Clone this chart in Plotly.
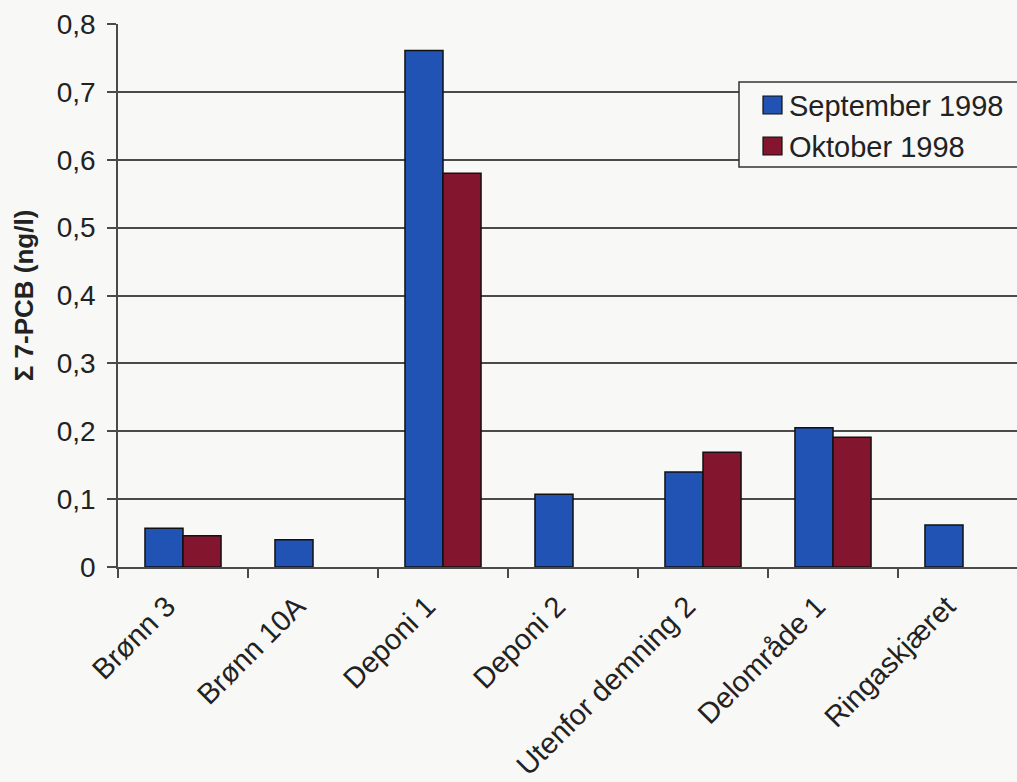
import plotly.graph_objects as go

# Σ 7-PCB concentrations (ng/l) per sampling station
stations = ["Brønn 3", "Brønn 10A", "Deponi 1", "Deponi 2",
            "Utenfor demning 2", "Delområde 1", "Ringaskjæret"]
sep_1998 = [0.057, 0.040, 0.761, 0.107, 0.140, 0.205, 0.062]
okt_1998 = [0.046, None, 0.580, None, 0.169, 0.191, None]
series_names = ["September 1998", "Oktober 1998"]
y_ticks = [0, 0.1, 0.2, 0.3, 0.4, 0.5, 0.6, 0.7, 0.8]
y_tick_text = ["0", "0,1", "0,2", "0,3", "0,4", "0,5", "0,6", "0,7", "0,8"]

BLUE = "#2153b4"
MAROON = "#84152f"
BG = "#f8f8f6"
INK = "#222222"
GRID = "#4a4a4a"
FONT = "Liberation Sans, Arial, sans-serif"

W, H = 1017, 782
L, T, B = 118, 24, 215
CAT_PX = 130  # pixel width of one category slot

plot_w = W - L
plot_h = H - T - B


def px(x, y):
    """Convert page pixels to paper coordinates."""
    return (x - L) / plot_w, (H - B - y) / plot_h


fig = go.Figure()
fig.add_trace(go.Bar(x=stations, y=sep_1998, name=series_names[0],
                     marker=dict(color=BLUE, line=dict(color="#111", width=1.5)),
                     showlegend=False))
fig.add_trace(go.Bar(x=stations, y=okt_1998, name=series_names[1],
                     marker=dict(color=MAROON, line=dict(color="#111", width=1.5)),
                     showlegend=False))

# hand-drawn legend box
x0, y0 = px(739, 82)
x1, y1 = px(1040, 167)
shapes = [dict(type="rect", xref="paper", yref="paper", x0=x0, x1=x1, y0=y1, y1=y0,
               line=dict(color="#333", width=1.5), fillcolor=BG, layer="above")]
annotations = []
for i, (name, col) in enumerate(zip(series_names, [BLUE, MAROON])):
    cy = 105 + i * 41
    sx0, sy0 = px(763, cy - 9)
    sx1, sy1 = px(782, cy + 9)
    shapes.append(dict(type="rect", xref="paper", yref="paper", x0=sx0, x1=sx1,
                       y0=sy1, y1=sy0, line=dict(color="#111", width=1.2),
                       fillcolor=col, layer="above"))
    tx, ty = px(787, cy + 1)
    annotations.append(dict(xref="paper", yref="paper", x=tx, y=ty, text=name,
                            showarrow=False, xanchor="left", yanchor="middle",
                            font=dict(family=FONT, size=29, color=INK)))

fig.update_layout(
    width=W, height=H,
    margin=dict(l=L, r=0, t=T, b=B, pad=0),
    paper_bgcolor=BG, plot_bgcolor=BG,
    barmode="group", bargap=0.415, bargroupgap=0,
    font=dict(family=FONT, size=28, color=INK),
    shapes=shapes, annotations=annotations,
    showlegend=False,
)
fig.update_xaxes(
    type="category", range=[-0.5, -0.5 + plot_w / CAT_PX],
    tickson="boundaries", ticks="outside", ticklen=9, tickwidth=1.5, tickcolor=GRID,
    tickangle=-45, tickfont=dict(family=FONT, size=29, color=INK),
    ticklabelshift=-16, ticklabelstandoff=9,
    showline=True, linecolor=GRID, linewidth=1.5, showgrid=False,
    automargin=False,
)
fig.update_yaxes(
    range=[0, 0.8], tickvals=y_ticks, ticktext=y_tick_text,
    ticks="outside", ticklen=9, tickwidth=1.5, tickcolor=GRID,
    tickfont=dict(family=FONT, size=28, color=INK), ticklabelstandoff=6,
    showgrid=True, gridcolor=GRID, gridwidth=1.5,
    showline=True, linecolor=GRID, linewidth=1.5, zeroline=False,
    title=dict(text="<b>Σ 7-PCB (ng/l)</b>", standoff=16,
               font=dict(family=FONT, size=26, color=INK)),
    automargin=False,
)

fig.write_html("out.html")
